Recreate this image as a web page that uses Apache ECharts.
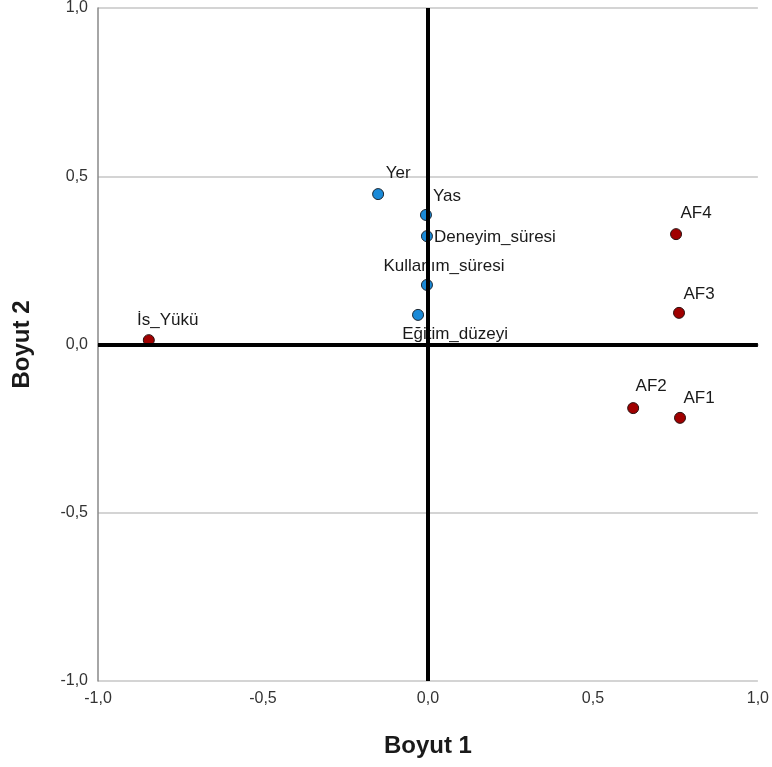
<!DOCTYPE html>
<html><head><meta charset="utf-8">
<script src="https://cdn.jsdelivr.net/npm/echarts@6/dist/echarts.min.js"></script>
<style>html,body{margin:0;padding:0;background:#fff}#c{width:772px;height:767px}</style>
</head><body><div id="c"></div>
<script>
// Data
const blueNames = ["Yer", "Yas", "Deneyim_süresi", "Kullanım_süresi", "Eğitim_düzeyi"];
const blueX = [-0.151, -0.006, -0.003, -0.003, -0.030];
const blueY = [0.447, 0.385, 0.322, 0.177, 0.088];
const redNames = ["İs_Yükü", "AF4", "AF3", "AF2", "AF1"];
const redX = [-0.846, 0.752, 0.761, 0.622, 0.764];
const redY = [0.013, 0.328, 0.094, -0.189, -0.218];
const tickValues = [-1, -0.5, 0, 0.5, 1];
const xTitle = "Boyut 1";
const yTitle = "Boyut 2";

// label offsets (style)
const labelOffsets = {
  "Yer": [20, -21], "Yas": [21, -19], "Deneyim_süresi": [68, 1], "Kullanım_süresi": [17, -19],
  "Eğitim_düzeyi": [37, 19], "İs_Yükü": [19, -20], "AF4": [20, -21], "AF3": [20, -19],
  "AF2": [18, -22], "AF1": [19, -20]
};
function build(names, xs, ys) {
  return names.map((n, i) => ({
    name: n, value: [xs[i], ys[i]],
    label: { offset: labelOffsets[n] || [0, -18] }
  }));
}
const fmt = v => v.toFixed(1).replace('.', ',');
const FF = 'Liberation Sans, Arial, sans-serif';
const labelStyle = { show: true, position: 'inside', formatter: p => p.name, color: '#1a1a1a', opacity: 1, fontSize: 17, fontFamily: FF };

const chart = echarts.init(document.getElementById('c'), null, { renderer: 'canvas' });
chart.setOption({
  animation: false,
  grid: { left: 98, right: 12, top: 8, bottom: 86 },
  xAxis: {
    type: 'value', min: -1, max: 1, interval: 0.5,
    name: xTitle, nameLocation: 'middle', nameGap: 53,
    nameTextStyle: { fontSize: 24, fontWeight: 'bold', color: '#1a1a1a', fontFamily: FF },
    axisLine: { show: true, lineStyle: { color: '#888', width: 1.5 } },
    axisTick: { show: false },
    splitLine: { show: false },
    axisLabel: { formatter: fmt, fontSize: 16, color: '#333', margin: 10, fontFamily: FF,
      showMinLabel: true, showMaxLabel: true }
  },
  yAxis: {
    type: 'value', min: -1, max: 1, interval: 0.5,
    name: yTitle, nameLocation: 'middle', nameGap: 64, nameRotate: 90,
    nameTextStyle: { fontSize: 24, fontWeight: 'bold', color: '#1a1a1a', fontFamily: FF },
    axisLine: { show: true, onZero: false, lineStyle: { color: '#888', width: 1.5 } },
    axisTick: { show: false },
    splitLine: { show: true, lineStyle: { color: '#d4d4d4', width: 2 } },
    axisLabel: { formatter: fmt, fontSize: 16, color: '#333', margin: 10, fontFamily: FF }
  },
  series: [
    {
      type: 'scatter', symbolSize: 11, z: 3,
      itemStyle: { color: '#1a8ad8', borderColor: '#1a2530', borderWidth: 1, opacity: 1 },
      label: labelStyle,
      data: build(blueNames, blueX, blueY)
    },
    {
      type: 'scatter', symbolSize: 11, z: 3,
      itemStyle: { color: '#a00000', borderColor: '#2a1010', borderWidth: 1, opacity: 1 },
      label: labelStyle,
      data: build(redNames, redX, redY)
    },
    {
      type: 'scatter', z: 10, data: [], silent: true,
      markLine: {
        silent: true, symbol: ['none', 'none'], label: { show: false },
        lineStyle: { color: '#000', width: 4, type: 'solid', opacity: 1 },
        data: [{ xAxis: 0 }, { yAxis: 0 }]
      }
    }
  ]
});
</script></body></html>
